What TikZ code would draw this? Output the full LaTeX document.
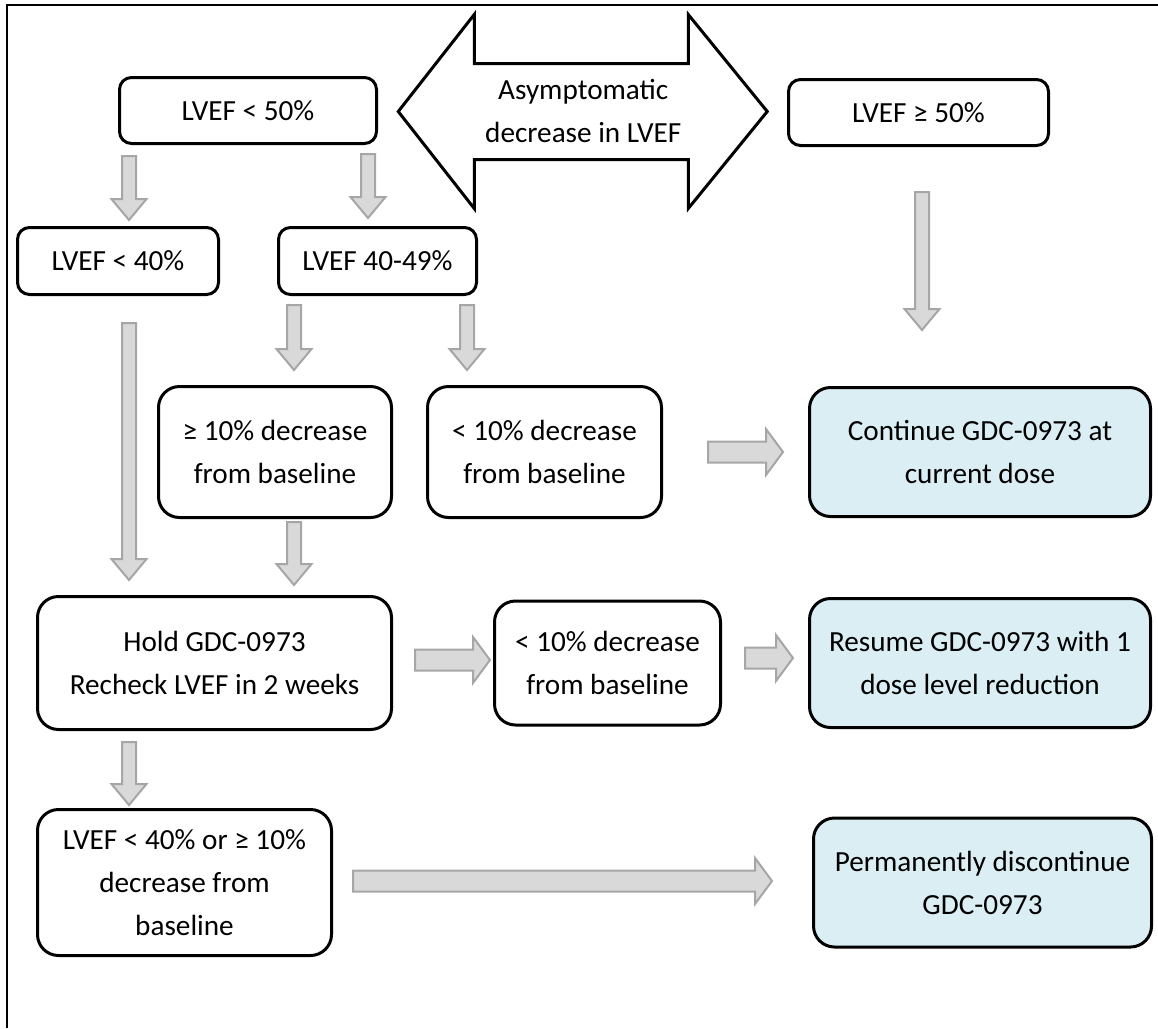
\documentclass[tikz,border=0pt]{standalone}
\usepackage{fontspec}
\setmainfont{Carlito}
\usepackage{xcolor}
\usepackage{tikz}
\usetikzlibrary{positioning,calc}

\definecolor{outcomeblue}{HTML}{DAEEF3}
\definecolor{blkfill}{HTML}{D9D9D9}
\definecolor{blkedge}{HTML}{A6A6A6}
\newcommand{\mainfs}{\fontsize{29.2}{43}\selectfont}

\begin{document}
\begin{tikzpicture}[
  x=1pt, y=-1pt,
  box/.style={draw, line width=3pt, rounded corners=12pt, align=center, fill=white, inner sep=0pt, outer sep=0pt, font=\mainfs},
  bigbox/.style={box, rounded corners=21pt},
  outcome/.style={bigbox, fill=outcomeblue},
  blk/.style={draw=blkedge, fill=blkfill, line width=2pt},
  downblk/.style={blk, to path={let \p1=(\tikztostart), \p2=(\tikztotarget) in
    (\x1-7pt,\y1) -- (\x1+7pt,\y1) -- (\x1+7pt,\y2+21pt) -- (\x1+17.5pt,\y2+21pt)
    -- (\x1,\y2) -- (\x1-17.5pt,\y2+21pt) -- (\x1-7pt,\y2+21pt) -- cycle}},
  rightblk/.style={blk, to path={let \p1=(\tikztostart), \p2=(\tikztotarget) in
    (\x1,\y1+10.5pt) -- (\x2-17pt,\y1+10.5pt) -- (\x2-17pt,\y1+23pt) -- (\x2,\y1)
    -- (\x2-17pt,\y1-23pt) -- (\x2-17pt,\y1-10.5pt) -- (\x1,\y1-10.5pt) -- cycle}}
]
\useasboundingbox (0,0) rectangle (1158,1028);
\draw[line width=2pt] (7,1028) -- (7,4.5) -- (1158,4.5);

% top row
\node[box, minimum width=257pt, minimum height=66pt] (lt50) at (248,110.5) {LVEF < 50\%};
\node[box, minimum width=260pt, minimum height=66pt] (ge50) at (918.5,112.5) {LVEF ≥ 50\%};
\node[align=center, font=\mainfs, inner sep=0pt] (asym) at ($(lt50)!0.5!(ge50)$) {Asymptomatic\\decrease in LVEF};
\draw[line width=3pt] ([xshift=-185pt]asym.center) -- ++(76,-97) -- ++(0,49) -- ++(214,0) -- ++(0,-49)
  -- ++(79,97) -- ++(-79,97) -- ++(0,-49) -- ++(-214,0) -- ++(0,49) -- cycle;

% LVEF < 50% branch
\node[box, minimum width=201pt, minimum height=67pt, below=84pt of lt50, xshift=-130pt] (lt40) {LVEF < 40\%};
\node[box, minimum width=198pt, minimum height=67pt, right=60pt of lt40] (mid) {LVEF 40-49\%};
\node[bigbox, minimum width=233pt, minimum height=131pt, below=92pt of mid, xshift=-102.5pt] (ge10) {≥ 10\% decrease\\from baseline};
\node[bigbox, minimum width=234pt, minimum height=131pt, right=36pt of ge10] (lt10a) {< 10\% decrease\\from baseline};
\node[outcome, minimum width=341pt, minimum height=129pt, right=148pt of lt10a] (cont) {Continue GDC-0973 at\\current dose};

% hold and recheck
\node[bigbox, minimum width=354pt, minimum height=133pt, below=79pt of ge10, xshift=-60.5pt] (hold) {Hold GDC-0973\\Recheck LVEF in 2 weeks};
\node[bigbox, minimum width=226pt, minimum height=124pt, right=103pt of hold] (lt10b) {< 10\% decrease\\from baseline};
\node[outcome, minimum width=341pt, minimum height=129pt, right=89pt of lt10b] (resume) {Resume GDC-0973 with 1\\dose level reduction};
\node[bigbox, minimum width=294pt, minimum height=146pt, below=80pt of hold, xshift=-30pt] (lt40or) {LVEF < 40\% or ≥ 10\%\\decrease from\\baseline};
\node[outcome, minimum width=338pt, minimum height=129pt, right=482pt of lt40or] (perm) {Permanently discontinue\\GDC-0973};

% block arrows
\draw[downblk] ([xshift=-119pt,yshift=-12.5pt]lt50.south) to ([yshift=7.5pt]lt40.north);
\draw[downblk] ([xshift=120pt,yshift=-10.5pt]lt50.south) to ([yshift=9.5pt]mid.north);
\draw[downblk] ([xshift=11pt,yshift=-28.5pt]lt40.south) to ([yshift=16.5pt]hold.north);
\draw[downblk] ([xshift=-83.5pt,yshift=-10.5pt]mid.south) to ([yshift=16.5pt]ge10.north);
\draw[downblk] ([xshift=89.5pt,yshift=-10.5pt]mid.south) to ([yshift=16.5pt]lt10a.north);
\draw[downblk] ([xshift=19pt,yshift=-4.5pt]ge10.south) to ([yshift=11.5pt]hold.north);
\draw[downblk] ([xshift=-85.5pt,yshift=-12.5pt]hold.south) to ([yshift=4.5pt]lt40or.north);
\draw[downblk] ([xshift=3.5pt,yshift=-46.5pt]ge50.south) to ([yshift=57.5pt]cont.north);
\draw[rightblk] ([xshift=46.5pt]lt10a.east) to ([xshift=-26.5pt]cont.west);
\draw[rightblk] ([xshift=23.5pt,yshift=3pt]hold.east) to ([xshift=-4.5pt]lt10b.west);
\draw[rightblk] ([xshift=24.5pt,yshift=5pt]lt10b.east) to ([xshift=-16.5pt]resume.west);
\draw[rightblk] ([xshift=21.5pt,yshift=1.5pt]lt40or.east) to ([xshift=-41.5pt]perm.west);
\end{tikzpicture}
\end{document}
